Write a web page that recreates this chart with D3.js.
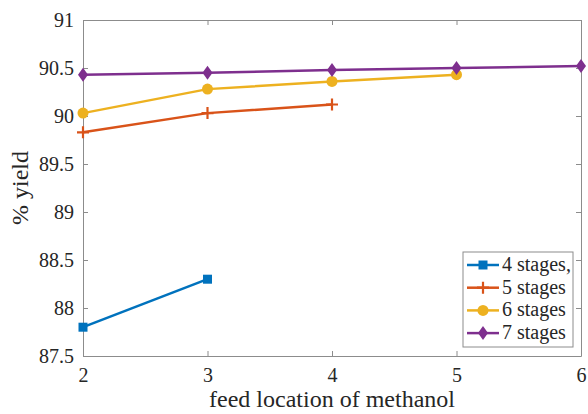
<!DOCTYPE html>
<meta charset="utf-8">
<style>
  body { margin: 0; background: #fff; }
</style>
<svg width="588" height="414"></svg>
<script src="https://cdn.jsdelivr.net/npm/d3@7"></script>
<script>

// feed location (stage number) on x, % yield on y
var xTicks = [2, 3, 4, 5, 6];
var yTicks = [87.5, 88, 88.5, 89, 89.5, 90, 90.5, 91];

var stages4 = [[2, 87.80], [3, 88.30]];
var stages5 = [[2, 89.83], [3, 90.03], [4, 90.12]];
var stages6 = [[2, 90.03], [3, 90.28], [4, 90.36], [5, 90.43]];
var stages7 = [[2, 90.43], [3, 90.45], [4, 90.48], [5, 90.50], [6, 90.52]];

var seriesNames = ["4 stages,", "5 stages", "6 stages", "7 stages"];

var series = [
  {name: seriesNames[0], color: "#0072BD", marker: "square", val: stages4},
  {name: seriesNames[1], color: "#D95319", marker: "plus", val: stages5},
  {name: seriesNames[2], color: "#EDB120", marker: "circle", val: stages6},
  {name: seriesNames[3], color: "#7E2F8E", marker: "diamond", val: stages7}
];

var serif = "'Liberation Serif', monospace";

var svg = d3.select("svg"),
    margin = {top: 20, right: 7, bottom: 58, left: 83},
    width = +svg.attr("width") - margin.left - margin.right,
    height = +svg.attr("height") - margin.top - margin.bottom;

var x = d3.scaleLinear().domain([2, 6]).range([0, width]);
var y = d3.scaleLinear().domain([87.5, 91]).range([height, 0]);

var g = svg.append("g")
    .attr("transform", "translate(" + margin.left + "," + margin.top + ")");

var axisColor = "#8c8c8c";

// box with inward ticks on all four sides, like matlab
function styleAxis(sel, labels) {
  sel.select(".domain").attr("stroke", axisColor).attr("stroke-width", 1);
  sel.selectAll(".tick line").attr("stroke", axisColor);
  sel.selectAll(".tick text")
      .style("font-family", serif)
      .style("font-size", "20px")
      .style("fill", "#262626");
  if (!labels) sel.selectAll(".tick text").remove();
}

g.append("g")
    .attr("transform", "translate(0," + height + ")")
    .call(d3.axisBottom(x).tickValues(xTicks).tickSize(-5).tickPadding(12).tickSizeOuter(0)
      .tickFormat(d3.format("d")))
    .call(styleAxis, true);

g.append("g")
    .call(d3.axisTop(x).tickValues(xTicks).tickSize(-5).tickSizeOuter(0))
    .call(styleAxis, false);

g.append("g")
    .call(d3.axisLeft(y).tickValues(yTicks).tickSize(-5).tickPadding(9).tickSizeOuter(0)
      .tickFormat(function(d) { return String(d); }))
    .call(styleAxis, true);

g.append("g")
    .attr("transform", "translate(" + width + ",0)")
    .call(d3.axisRight(y).tickValues(yTicks).tickSize(-5).tickSizeOuter(0))
    .call(styleAxis, false);

var line = d3.line()
    .x(function(d) { return x(d[0]); })
    .y(function(d) { return y(d[1]); });

function drawMarker(sel, m, color) {
  if (m === "square") {
    sel.append("rect").attr("x", -4.5).attr("y", -4.5).attr("width", 9).attr("height", 9)
        .attr("fill", color);
  } else if (m === "plus") {
    sel.append("path").attr("d", "M-6,0H6M0,-6V6")
        .attr("stroke", color).attr("stroke-width", 2.2).attr("fill", "none");
  } else if (m === "circle") {
    sel.append("circle").attr("r", 5.5).attr("fill", color);
  } else {
    sel.append("path").attr("d", "M0,-7L5,0L0,7L-5,0Z").attr("fill", color);
  }
}

series.forEach(function(s) {
  g.append("path")
      .datum(s.val)
      .attr("fill", "none")
      .attr("stroke", s.color)
      .attr("stroke-width", 2.5)
      .attr("d", line);

  g.selectAll(null)
      .data(s.val)
      .enter().append("g")
      .attr("transform", function(d) { return "translate(" + x(d[0]) + "," + y(d[1]) + ")"; })
      .each(function() { drawMarker(d3.select(this), s.marker, s.color); });
});

function label(sel, size) {
  sel.style("font-family", serif).style("font-size", size + "px").style("fill", "#262626");
}

// axis labels
svg.append("text")
    .attr("x", margin.left + width / 2)
    .attr("y", 407)
    .attr("text-anchor", "middle")
    .call(label, 24)
    .text("feed location of methanol");

svg.append("text")
    .attr("transform", "translate(28," + (margin.top + height / 2) + ") rotate(-90)")
    .attr("text-anchor", "middle")
    .call(label, 24)
    .text("% yield");

// legend
var legend = svg.append("g").attr("transform", "translate(463,252)");

legend.append("rect")
    .attr("width", 110).attr("height", 95)
    .attr("fill", "#fff")
    .attr("stroke", axisColor);

series.forEach(function(s, i) {
  var row = legend.append("g").attr("transform", "translate(0," + (13 + i * 22.7) + ")");
  row.append("line")
      .attr("x1", 4).attr("x2", 36)
      .attr("stroke", s.color).attr("stroke-width", 2.5);
  row.append("g").attr("transform", "translate(20,0)")
      .call(drawMarker, s.marker, s.color);
  row.append("text")
      .attr("x", 39).attr("y", 6)
      .call(label, 20)
      .text(s.name);
});

</script>
